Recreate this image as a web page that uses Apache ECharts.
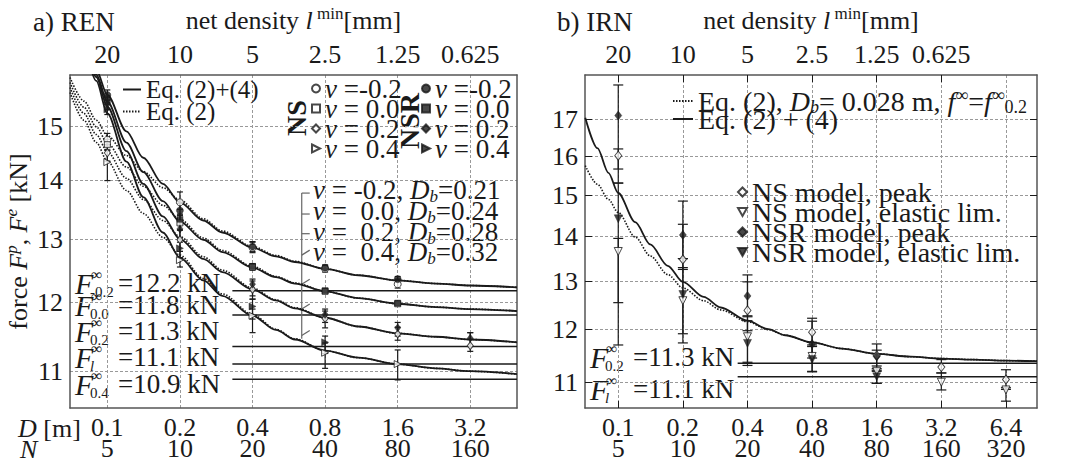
<!DOCTYPE html>
<html>
<head>
<meta charset="utf-8">
<script src="https://cdn.jsdelivr.net/npm/echarts@6/dist/echarts.min.js"></script>
<style>
html, body { margin: 0; padding: 0; background: #fff; }
#main { width: 1074px; height: 466px; }
</style>
</head>
<body>
<div id="main"></div>
<script>
var FF = 'Liberation Serif';
var INK = '#1a1a1a';
var EDGE = '#555';

// ---- a) REN : axes ----
var dTicksL = [0.1, 0.2, 0.4, 0.8, 1.6, 3.2];
var dLabelsL = ['0.1', '0.2', '0.4', '0.8', '1.6', '3.2'];
var nLabelsL = ['5', '10', '20', '40', '80', '160'];
var lLabelsL = ['20', '10', '5', '2.5', '1.25', '0.625'];
var fTicksL = [11, 12, 13, 14, 15];
var fLabelsL = ['11', '12', '13', '14', '15'];

// ---- b) IRN : axes ----
var dTicksR = [0.1, 0.2, 0.4, 0.8, 1.6, 3.2, 6.4];
var dLabelsR = ['0.1', '0.2', '0.4', '0.8', '1.6', '3.2', '6.4'];
var nLabelsR = ['5', '10', '20', '40', '80', '160', '320'];
var lLabelsR = ['20', '10', '5', '2.5', '1.25', '0.625', '0.3125'];
var fTicksR = [11, 12, 13, 14, 15, 16, 17];
var fLabelsR = ['11', '12', '13', '14', '15', '16', '17'];

// ---- a) REN : model curves (read off the picture) ----
var curveD = [0.08, 0.09, 0.1, 0.12, 0.141, 0.17, 0.2, 0.25, 0.3, 0.4, 0.5, 0.6, 0.8, 1.1, 1.6, 2.3, 3.2, 5.0];
var eq24M02 = [16.74, 16.10, 15.60, 14.90, 14.41, 13.94, 13.62, 13.31, 13.11, 12.86, 12.72, 12.63, 12.52, 12.42, 12.34, 12.29, 12.26, 12.23];
var eq24P00 = [16.71, 16.01, 15.47, 14.69, 14.15, 13.64, 13.29, 12.99, 12.79, 12.54, 12.39, 12.29, 12.17, 12.065, 11.98, 11.93, 11.90, 11.87];
var eq24P02 = [16.73, 15.96, 15.37, 14.53, 13.94, 13.38, 13.00, 12.68, 12.47, 12.20, 12.03, 11.91, 11.77, 11.64, 11.54, 11.49, 11.45, 11.41];
var eq24P04 = [16.71, 15.88, 15.24, 14.34, 13.71, 13.11, 12.70, 12.34, 12.10, 11.80, 11.59, 11.45, 11.29, 11.19, 11.10, 11.04, 11.00, 10.96];

var dotD = [0.07, 0.08, 0.09, 0.1, 0.12, 0.141, 0.17, 0.2, 0.25, 0.3, 0.4, 0.5, 0.6, 0.8, 1.1, 1.6, 2.3, 3.2, 5.0];
var eq2M02 = [15.95, 15.48, 15.11, 14.82, 14.45, 14.16, 13.875, 13.66, 13.34, 13.135, 12.88, 12.735, 12.64, 12.52, 12.42, 12.34, 12.29, 12.26, 12.23];
var eq2P00 = [15.85, 15.36, 14.985, 14.68, 14.24, 13.90, 13.57, 13.33, 13.02, 12.815, 12.56, 12.40, 12.30, 12.17, 12.065, 11.98, 11.93, 11.90, 11.87];
var eq2P02 = [15.75, 15.24, 14.84, 14.52, 14.04, 13.67, 13.31, 13.04, 12.715, 12.50, 12.22, 12.04, 11.92, 11.77, 11.64, 11.54, 11.49, 11.45, 11.41];
var eq2P04 = [15.65, 15.11, 14.69, 14.35, 13.825, 13.43, 13.03, 12.74, 12.37, 12.13, 11.82, 11.60, 11.46, 11.29, 11.19, 11.10, 11.04, 11.00, 10.96];

// ---- a) REN : simulation points [D, F, low, high] ----
var nsM02 = [[0.1, 14.74, 14.62, 14.86], [0.2, 13.62, 13.50, 13.80], [0.4, 12.86, 12.78, 12.95], [0.8, 12.52, 12.47, 12.58], [1.6, 12.28, 12.22, 12.36]];
var nsP00 = [[0.1, 14.65, 14.55, 14.75], [0.2, 13.27, 13.15, 13.40], [0.4, 12.55, 12.50, 12.60], [0.8, 12.17, 12.14, 12.20], [1.6, 11.98, 11.96, 12.00]];
var nsP02 = [[0.1, 14.50, 14.35, 14.65], [0.2, 12.99, 12.80, 13.15], [0.4, 12.20, 12.05, 12.33], [0.8, 11.76, 11.62, 11.87], [1.6, 11.53, 11.44, 11.63], [3.2, 11.36, 11.28, 11.55]];
var nsP04 = [[0.1, 14.33, 14.00, 14.55], [0.2, 12.66, 12.55, 12.80], [0.4, 11.80, 11.55, 11.90], [0.8, 11.26, 11.04, 11.40], [1.6, 11.10, 10.88, 11.30]];
var nsrM02 = [[0.1, 15.60, 15.50, 15.70], [0.2, 13.48, 13.40, 13.60], [0.4, 12.88, 12.80, 12.96], [0.8, 12.54, 12.50, 12.58], [1.6, 12.36, 12.31, 12.40]];
var nsrP00 = [[0.1, 15.50, 15.42, 15.58], [0.2, 13.33, 13.25, 13.42], [0.4, 12.56, 12.52, 12.60], [0.8, 12.18, 12.15, 12.21], [1.6, 11.99, 11.97, 12.01]];
var nsrP02 = [[0.1, 15.42, 15.32, 15.50], [0.2, 13.17, 13.00, 13.30], [0.4, 12.28, 12.10, 12.36], [0.8, 11.82, 11.70, 11.90], [1.6, 11.62, 11.50, 11.70], [3.2, 11.47, 11.35, 11.55]];
var nsrP04 = [[0.1, 15.32, 15.22, 15.42], [0.2, 12.85, 12.70, 12.95], [0.4, 11.94, 11.75, 12.05], [0.8, 11.41, 11.25, 11.50]];

// asymptotes F_inf and where their lines start
var fInfL = [12.18, 11.81, 11.35, 11.10, 10.89];
var fInfStartL = 0.33;
// bracket next to the nu / D_b list
var bracketD = 0.64;
var bracketSpan = [13.78, 11.46];
var bracketTicks = [[13.78, 0], [13.42, 0], [13.09, 0], [12.74, 1], [12.28, 1], [11.90, 1], [11.51, 1]];

// ---- b) IRN : curves ----
var curveDR = [0.0702, 0.08, 0.09, 0.1, 0.12, 0.141, 0.17, 0.2, 0.25, 0.3, 0.4, 0.5, 0.6, 0.8, 1.1, 1.6, 2.3, 3.2, 4.5, 6.4, 8.93];
var irnEq24 = [17.05, 16.21, 15.56, 15.05, 14.34, 13.82, 13.34, 12.99, 12.67, 12.45, 12.18, 12.01, 11.89, 11.75, 11.63, 11.53, 11.475, 11.44, 11.42, 11.40, 11.39];
var irnEq2 = [15.75, 15.27, 14.89, 14.57, 13.99, 13.56, 13.15, 12.86, 12.59, 12.40, 12.16, 12.00, 11.89, 11.75, 11.63, 11.53, 11.475, 11.44, 11.42, 11.40, 11.39];

// ---- b) IRN : points [D, F, low, high] ----
var irnNsPeak = [[0.1, 16.01, 15.30, 16.19], [0.2, 13.48, 13.26, 14.29], [0.4, 12.39, 11.98, 12.99], [0.8, 11.95, 11.67, 12.23], [1.6, 11.50, 11.22, 11.72], [3.2, 11.28, 11.17, 11.42], [6.4, 11.05, 10.87, 11.23]];
var irnNsElas = [[0.1, 13.66, 11.70, 13.96], [0.2, 12.59, 11.74, 13.30], [0.4, 11.86, 11.37, 12.28], [0.8, 11.48, 11.19, 11.75], [1.6, 11.20, 10.98, 11.25], [3.2, 11.00, 10.86, 11.17], [6.4, 10.86, 10.66, 10.90]];
var irnNsrPeak = [[0.1, 17.11, 15.66, 18.00], [0.2, 14.04, 13.50, 14.85], [0.4, 12.69, 12.26, 13.14], [0.8, 11.72, 11.45, 12.17], [1.6, 11.48, 11.30, 11.60]];
var irnNsrElas = [[0.1, 14.42, 12.55, 15.30], [0.2, 12.72, 11.92, 13.50], [0.4, 11.73, 11.31, 12.18], [0.8, 11.42, 11.20, 11.70], [1.6, 11.10, 10.98, 11.20]];
var fInfR = [11.35, 11.10];
var fInfStartR = 0.36;

var xMaxL = 5.0, xMaxR = 8.93;

// marker shapes
var TRI_RIGHT = 'path://M0,0L10,5L0,10Z';
var TRI_DOWN = 'path://M0,0L10,0L5,9Z';

//////////////////////////

// rich text styles for a given base font size (every run carries its own font)
function richSet(size) {
	var s = Math.round(size * 0.64);
	return {
		n: { fontFamily: FF, fontSize: size },
		i: { fontFamily: FF, fontSize: size, fontStyle: 'italic' },
		sp: { fontFamily: FF, fontSize: s, lineHeight: 12, verticalAlign: 'top' },
		spi: { fontFamily: FF, fontSize: s, lineHeight: 12, verticalAlign: 'top', fontStyle: 'italic' },
		sb: { fontFamily: FF, fontSize: s, lineHeight: 12, verticalAlign: 'bottom' },
		sbi: { fontFamily: FF, fontSize: s, lineHeight: 12, verticalAlign: 'bottom', fontStyle: 'italic' }
	};
}

var legendText = {
	'Eq. (2)+(4)': '{n|Eq. (2)+(4)}',
	'Eq. (2)': '{n|Eq. (2)}',
	'NS -0.2': '{i|ν}{n| =-0.2}', 'NS 0.0': '{i|ν}{n| = 0.0}', 'NS 0.2': '{i|ν}{n| = 0.2}', 'NS 0.4': '{i|ν}{n| = 0.4}',
	'NSR -0.2': '{i|ν}{n| =-0.2}', 'NSR 0.0': '{i|ν}{n| = 0.0}', 'NSR 0.2': '{i|ν}{n| = 0.2}', 'NSR 0.4': '{i|ν}{n| = 0.4}',
	'IRN Eq2': '{n|Eq. (2), }{i|D}{sbi|b}{n|= 0.028 m, }{i|f}{sp|∞}{n|=}{i|f}{sp|∞}{sb|0.2}',
	'IRN Eq24': '{n|Eq. (2) + (4)}'
};
function legendFmt(name) {
	return legendText[name] || ('{n|' + name + '}');
}

// look a tick label up from its value
function pick(ticks, labels) {
	return function (v) {
		for (var i = 0; i < ticks.length; i++) {
			if (Math.abs(ticks[i] - v) < ticks[i] * 1e-6) return '{n|' + labels[i] + '}';
		}
		return '';
	};
}
function ext(a, b) {
	var o = {};
	for (var k in a) o[k] = a[k];
	for (var k2 in b) o[k2] = b[k2];
	return o;
}
function zip(xs, ys) {
	return xs.map(function (x, i) { return [x, ys[i]]; });
}

var labelBase = { fontFamily: FF, fontSize: 26, color: INK, rich: richSet(26) };
var gridLine = { show: true, lineStyle: { color: '#999', width: 1, type: [3, 2] } };
var edge = { show: true, lineStyle: { color: EDGE, width: 1.5 } };
var inTick = function (ticks) {
	return { show: true, inside: true, length: 7, customValues: ticks, lineStyle: { color: INK, width: 1 } };
};
var noTick = function (ticks) {
	return { show: false, customValues: ticks };
};
var nameStyle = { fontFamily: FF, fontSize: 26, color: INK, lineHeight: 30, rich: richSet(26) };

function xAx(gi, max, pos, ticks, labels, o) {
	return ext({
		gridIndex: gi, type: 'log', logBase: 2, min: 0.07, max: max, position: pos,
		axisLine: edge, axisTick: noTick(ticks), splitLine: { show: false },
		axisLabel: ext(labelBase, { customValues: ticks, formatter: pick(ticks, labels), margin: 6 })
	}, o);
}
function yAx(gi, min, max, pos, ticks, labels, o) {
	return ext({
		gridIndex: gi, type: 'log', min: min, max: max, position: pos,
		axisLine: edge, axisTick: noTick(ticks), splitLine: { show: false },
		axisLabel: ext(labelBase, { customValues: ticks, formatter: pick(ticks, labels), margin: 7 })
	}, o);
}

var topName = '{n|net density }{i|l}{sp| min}{n|[mm]}';

var xAxes = [
	xAx(0, xMaxL, 'bottom', dTicksL, dLabelsL, { splitLine: gridLine }),
	xAx(0, xMaxL, 'bottom', dTicksL, nLabelsL, { offset: 21, axisLine: { show: false } }),
	xAx(0, xMaxL, 'top', dTicksL, lLabelsL, {
		axisLabel: ext(labelBase, { customValues: dTicksL, formatter: pick(dTicksL, lLabelsL), margin: 8 }),
		name: topName, nameLocation: 'middle', nameGap: 40, nameTextStyle: nameStyle
	}),
	xAx(1, xMaxR, 'bottom', dTicksR, dLabelsR, { splitLine: gridLine, axisTick: inTick(dTicksR) }),
	xAx(1, xMaxR, 'bottom', dTicksR, nLabelsR, { offset: 21, axisLine: { show: false } }),
	xAx(1, xMaxR, 'top', dTicksR, lLabelsR, {
		axisTick: inTick(dTicksR),
		axisLabel: ext(labelBase, { customValues: dTicksR, formatter: pick(dTicksR, lLabelsR), margin: 8 }),
		name: topName, nameLocation: 'middle', nameGap: 40, nameTextStyle: nameStyle
	})
];

var yAxes = [
	yAx(0, 10.5, 16, 'left', fTicksL, fLabelsL, {
		splitLine: gridLine,
		name: '{n|force }{i|F}{spi|p}{n|, }{i|F}{spi|e}{n| [kN]}', nameLocation: 'middle', nameGap: 36, nameTextStyle: nameStyle
	}),
	yAx(0, 10.5, 16, 'right', fTicksL, fLabelsL, { axisLabel: { show: false } }),
	yAx(1, 10.54, 18.3, 'left', fTicksR, fLabelsR, { splitLine: gridLine, axisTick: inTick(fTicksR) }),
	yAx(1, 10.54, 18.3, 'right', fTicksR, fLabelsR, { axisLabel: { show: false }, axisTick: inTick(fTicksR) })
];

// ---- custom drawing helpers (all through api.coord) ----
function errRender(half) {
	return function (params, api) {
		var x = api.value(0);
		var p1 = api.coord([x, api.value(2)]);
		var p2 = api.coord([x, api.value(3)]);
		var st = { stroke: INK, lineWidth: 1.2 };
		return {
			type: 'group', children: [
				{ type: 'line', shape: { x1: p1[0], y1: p1[1], x2: p2[0], y2: p2[1] }, style: st },
				{ type: 'line', shape: { x1: p1[0] - half, y1: p1[1], x2: p1[0] + half, y2: p1[1] }, style: st },
				{ type: 'line', shape: { x1: p2[0] - half, y1: p2[1], x2: p2[0] + half, y2: p2[1] }, style: st }
			]
		};
	};
}
function refRender(params, api) {
	var a = api.coord([api.value(0), api.value(1)]);
	var b = api.coord([api.value(2), api.value(1)]);
	return { type: 'line', shape: { x1: a[0], y1: a[1], x2: b[0], y2: b[1] }, style: { stroke: INK, lineWidth: 1.5 } };
}
function tickRender(params, api) {
	var p = api.coord([api.value(0), api.value(1)]);
	var up = api.value(2) === 1 ? 5 : 0;
	return { type: 'line', shape: { x1: p[0], y1: p[1], x2: p[0] + 8, y2: p[1] - up }, style: { stroke: '#666', lineWidth: 1.2 } };
}

function curve(name, xs, ys, dotted, xi, yi) {
	return {
		name: name, type: 'line', xAxisIndex: xi, yAxisIndex: yi, data: zip(xs, ys),
		symbol: 'none', smooth: 0.3, smoothMonotone: 'x', clip: true, silent: true, z: 4,
		lineStyle: { color: INK, width: dotted ? 1.6 : 1.8, type: dotted ? [1.5, 1.5] : 'solid' },
		itemStyle: { color: INK }
	};
}
function pts(name, data, sym, size, filled, xi, yi) {
	return {
		name: name, type: 'scatter', xAxisIndex: xi, yAxisIndex: yi,
		data: data.map(function (d) { return [d[0], d[1]]; }),
		symbol: sym, symbolSize: size, z: 6, silent: true,
		itemStyle: filled ? { color: INK, borderColor: INK, borderWidth: 0.5 } : { color: '#fff', borderColor: INK, borderWidth: 1 }
	};
}
function errs(list, half, xi, yi) {
	var all = [];
	list.forEach(function (s) { s.forEach(function (d) { all.push(d); }); });
	return { type: 'custom', xAxisIndex: xi, yAxisIndex: yi, data: all, encode: { x: 0, y: 1 }, renderItem: errRender(half), z: 3, silent: true };
}

var series = [
	errs([nsM02, nsP00, nsP02, nsP04, nsrM02, nsrP00, nsrP02, nsrP04], 3, 0, 0),
	{ type: 'custom', xAxisIndex: 0, yAxisIndex: 0, silent: true, z: 2, renderItem: refRender, encode: { x: 0, y: 1 },
		data: fInfL.map(function (f) { return [fInfStartL, f, xMaxL]; }) },
	{ type: 'line', xAxisIndex: 0, yAxisIndex: 0, silent: true, symbol: 'none', z: 2,
		data: [[bracketD, bracketSpan[0]], [bracketD, bracketSpan[1]]], lineStyle: { color: '#666', width: 1.2 } },
	{ type: 'custom', xAxisIndex: 0, yAxisIndex: 0, silent: true, z: 2, renderItem: tickRender, encode: { x: 0, y: 1 },
		data: bracketTicks.map(function (t) { return [bracketD, t[0], t[1]]; }) },
	curve('Eq. (2)', dotD, eq2M02, true, 0, 0),
	curve('Eq. (2)', dotD, eq2P00, true, 0, 0),
	curve('Eq. (2)', dotD, eq2P02, true, 0, 0),
	curve('Eq. (2)', dotD, eq2P04, true, 0, 0),
	curve('Eq. (2)+(4)', curveD, eq24M02, false, 0, 0),
	curve('Eq. (2)+(4)', curveD, eq24P00, false, 0, 0),
	curve('Eq. (2)+(4)', curveD, eq24P02, false, 0, 0),
	curve('Eq. (2)+(4)', curveD, eq24P04, false, 0, 0),
	pts('NS -0.2', nsM02, 'circle', 7, false, 0, 0),
	pts('NS 0.0', nsP00, 'rect', 6, false, 0, 0),
	pts('NS 0.2', nsP02, 'diamond', [6, 8], false, 0, 0),
	pts('NS 0.4', nsP04, TRI_RIGHT, 7, false, 0, 0),
	pts('NSR -0.2', nsrM02, 'circle', 7, true, 0, 0),
	pts('NSR 0.0', nsrP00, 'rect', 6, true, 0, 0),
	pts('NSR 0.2', nsrP02, 'diamond', [6, 8], true, 0, 0),
	pts('NSR 0.4', nsrP04, TRI_RIGHT, 7, true, 0, 0),

	errs([irnNsPeak, irnNsElas, irnNsrPeak, irnNsrElas], 5, 3, 2),
	{ type: 'custom', xAxisIndex: 3, yAxisIndex: 2, silent: true, z: 2, renderItem: refRender, encode: { x: 0, y: 1 },
		data: fInfR.map(function (f) { return [fInfStartR, f, xMaxR]; }) },
	curve('IRN Eq2', curveDR, irnEq2, true, 3, 2),
	curve('IRN Eq24', curveDR, irnEq24, false, 3, 2),
	pts('NS model, peak', irnNsPeak, 'diamond', [7, 9], false, 3, 2),
	pts('NS model, elastic lim.', irnNsElas, TRI_DOWN, 8, false, 3, 2),
	pts('NSR model, peak', irnNsrPeak, 'diamond', [7, 9], true, 3, 2),
	pts('NSR model, elastic lim.', irnNsrElas, TRI_DOWN, 8, true, 3, 2)
];

function legendBox(left, top, names, size, gap, iw, ih, o) {
	return ext({
		left: left, top: top, orient: 'vertical', padding: 0, itemGap: gap,
		itemWidth: iw, itemHeight: ih, selectedMode: false, data: names, formatter: legendFmt,
		textStyle: { fontFamily: FF, fontSize: size, color: INK, rich: richSet(size) }
	}, o);
}

// ---- annotation text ----
function txt(x, y, s, size, o) {
	return {
		type: 'text', x: x, y: y, silent: true,
		style: ext({ text: s, fontFamily: FF, fontSize: size, fill: INK, textAlign: 'left', textVerticalAlign: 'middle', rich: richSet(size) }, o)
	};
}
function fInfLabel(x, y, sub, value, subItalic) {
	return [
		txt(x, y, 'F', 30, { fontStyle: 'italic' }),
		txt(x + 16, y - 9, '∞', 16),
		txt(x + 15, y + 9, sub, 15, subItalic ? { fontStyle: 'italic' } : {}),
		txt(x + 43, y, value, 27)
	];
}

var graphics = [
	txt(33, 22, 'a) REN', 27),
	txt(557, 22, 'b) IRN', 27),
	txt(18, 428, '{i|D}{n| [m]}', 26),
	txt(20, 449, '{i|N}', 26),
	{ type: 'text', x: 296, y: 118, rotation: Math.PI / 2, silent: true,
		style: { text: 'NS', fontFamily: FF, fontSize: 28, fontWeight: 'bold', fill: INK, textAlign: 'center', textVerticalAlign: 'middle' } },
	{ type: 'text', x: 409, y: 121, rotation: Math.PI / 2, silent: true,
		style: { text: 'NSR', fontFamily: FF, fontSize: 28, fontWeight: 'bold', fill: INK, textAlign: 'center', textVerticalAlign: 'middle' } },
	txt(313, 190, '{i|ν}{n| = -0.2, }{i|D}{sbi|b}{n|=0.21}', 27, { lineHeight: 30 }),
	txt(313, 211, '{i|ν}{n| =  0.0, }{i|D}{sbi|b}{n|=0.24}', 27, { lineHeight: 30 }),
	txt(313, 232, '{i|ν}{n| =  0.2, }{i|D}{sbi|b}{n|=0.28}', 27, { lineHeight: 30 }),
	txt(313, 252, '{i|ν}{n| =  0.4, }{i|D}{sbi|b}{n|=0.32}', 27, { lineHeight: 30 })
]
	.concat(fInfLabel(75, 283, '-0.2', '=12.2 kN'))
	.concat(fInfLabel(75, 305, '0.0', '=11.8 kN'))
	.concat(fInfLabel(75, 331, '0.2', '=11.3 kN'))
	.concat(fInfLabel(75, 357, 'l', '=11.1 kN', true))
	.concat(fInfLabel(75, 384, '0.4', '=10.9 kN'))
	.concat(fInfLabel(590, 357, '0.2', '=11.3 kN'))
	.concat(fInfLabel(590, 389, 'l', '=11.1 kN', true));

var lineLegend = { itemStyle: { opacity: 0, borderWidth: 0 } };

var chart = echarts.init(document.getElementById('main'), null, { renderer: 'svg' });
chart.setOption({
	animation: false,
	backgroundColor: '#fff',
	textStyle: { fontFamily: FF },
	grid: [
		{ left: 70, top: 71, width: 447, height: 337 },
		{ left: 585, top: 71, width: 452, height: 337 }
	],
	xAxis: xAxes,
	yAxis: yAxes,
	legend: [
		legendBox(122, 77, ['Eq. (2)+(4)', 'Eq. (2)'], 25, -3, 18, 10, lineLegend),
		legendBox(311, 75, ['NS -0.2', 'NS 0.0', 'NS 0.2', 'NS 0.4'], 27, -7, 8, 8),
		legendBox(421, 75, ['NSR -0.2', 'NSR 0.0', 'NSR 0.2', 'NSR 0.4'], 27, -7, 8, 8),
		legendBox(672, 86, ['IRN Eq2', 'IRN Eq24'], 28, -12, 20, 10, ext(lineLegend, {
			textStyle: { fontFamily: FF, fontSize: 28, lineHeight: 30, color: INK, rich: richSet(28) }
		})),
		legendBox(737, 178, ['NS model, peak', 'NS model, elastic lim.', 'NSR model, peak', 'NSR model, elastic lim.'], 28, -8, 9, 9)
	],
	graphic: graphics,
	series: series
});
</script>
</body>
</html>
